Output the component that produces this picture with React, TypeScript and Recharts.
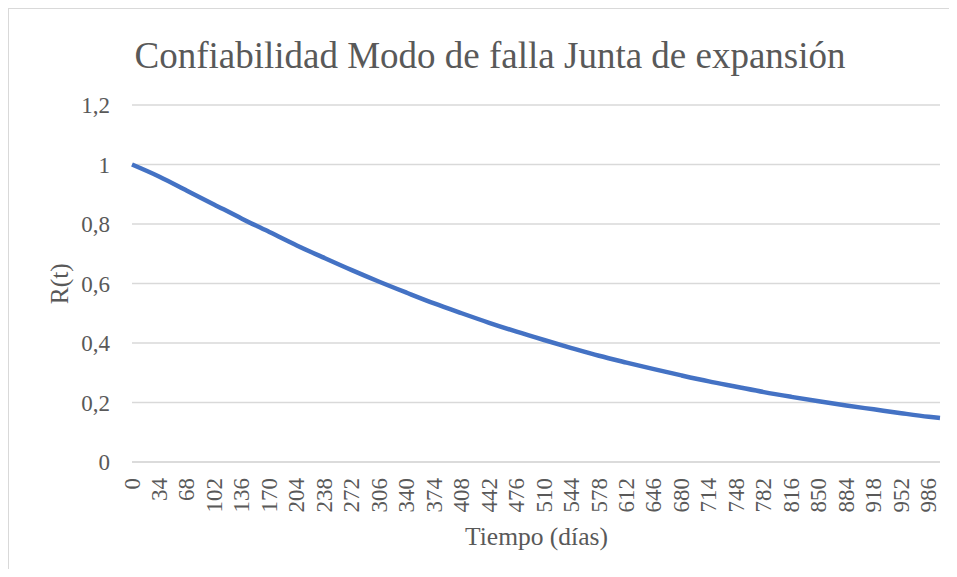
import React from "react";
import {
  LineChart,
  Line,
  XAxis,
  YAxis,
  CartesianGrid,
} from "recharts";

// días
const days = [
  0, 34, 68, 102, 136, 170, 204, 238, 272, 306, 340, 374, 408, 442, 476, 510,
  544, 578, 612, 646, 680, 714, 748, 782, 816, 850, 884, 918, 952, 986, 1000,
];

// R(t)
const reliability = [
  1.0, 0.959, 0.912, 0.865, 0.818, 0.773, 0.728, 0.686, 0.645, 0.606, 0.569,
  0.533, 0.5, 0.468, 0.438, 0.41, 0.383, 0.357, 0.334, 0.312, 0.291, 0.271,
  0.253, 0.235, 0.219, 0.204, 0.19, 0.177, 0.164, 0.152, 0.148,
];

const xTicks = [
  0, 34, 68, 102, 136, 170, 204, 238, 272, 306, 340, 374, 408, 442, 476, 510,
  544, 578, 612, 646, 680, 714, 748, 782, 816, 850, 884, 918, 952, 986,
];
const yTicks = [0, 0.2, 0.4, 0.6, 0.8, 1, 1.2];

const title = "Confiabilidad Modo de falla Junta de expansión";
const xTitle = "Tiempo (días)";
const yTitle = "R(t)";

const data = days.map((d, i) => ({ day: d, r: reliability[i] }));

const FONT = "Liberation Serif";
const TEXT = "#595959";
const GRID = "#d9d9d9";

const XTick = ({ x, y, payload }: any) => (
  <text
    x={x}
    y={y}
    transform={`rotate(-90, ${x}, ${y})`}
    textAnchor="end"
    dominantBaseline="central"
    fontFamily={FONT}
    fontSize={23}
    fill={TEXT}
  >
    {payload.value}
  </text>
);

export default function App() {
  return (
    <div style={{ width: 941, height: 561, overflow: "hidden", fontFamily: FONT }}>
      <div
        style={{
          position: "relative",
          width: 960,
          height: 580,
          border: `1px solid ${GRID}`,
          color: TEXT,
        }}
      >
        <LineChart
          width={950}
          height={570}
          data={data}
          margin={{ top: 96, right: 19, left: 63, bottom: 57 }}
        >
          <CartesianGrid vertical={false} stroke={GRID} strokeWidth={1.3} />
          <XAxis
            dataKey="day"
            type="number"
            domain={[0, 1000]}
            ticks={xTicks}
            interval={0}
            height={60}
            tickLine={false}
            axisLine={{ stroke: GRID, strokeWidth: 1.3 }}
            tickSize={6}
            tickMargin={10}
            tick={<XTick />}
          />
          <YAxis
            domain={[0, 1.2]}
            ticks={yTicks}
            width={60}
            tickLine={false}
            axisLine={false}
            tickSize={6}
            tickMargin={16}
            tick={{ fill: TEXT, fontSize: 23, fontFamily: FONT }}
            tickFormatter={(v: number) => String(v).replace(".", ",")}
          />
          <Line
            type="monotone"
            dataKey="r"
            stroke="#4472c4"
            strokeWidth={4.5}
            dot={false}
            isAnimationActive={false}
          />
        </LineChart>
        <div
          style={{
            position: "absolute",
            left: 81,
            top: 28,
            width: 800,
            textAlign: "center",
            fontSize: 37,
            lineHeight: "37px",
            whiteSpace: "nowrap",
          }}
        >
          {title}
        </div>
        <div
          style={{
            position: "absolute",
            left: 327.5,
            top: 514.6,
            width: 400,
            textAlign: "center",
            fontSize: 25.5,
            lineHeight: "25.5px",
            whiteSpace: "nowrap",
          }}
        >
          {xTitle}
        </div>
        <div
          style={{
            position: "absolute",
            left: 1,
            top: 262,
            width: 100,
            height: 25.5,
            textAlign: "center",
            fontSize: 25.5,
            lineHeight: "25.5px",
            whiteSpace: "nowrap",
            transform: "rotate(-90deg)",
          }}
        >
          {yTitle}
        </div>
      </div>
    </div>
  );
}
